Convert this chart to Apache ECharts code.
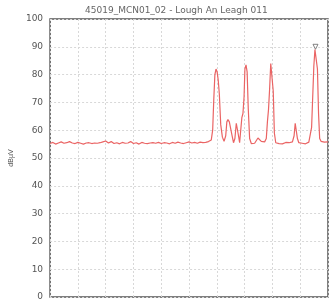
<!DOCTYPE html>
<html>
<head>
    <meta charset="utf-8" />
    <script src="https://cdn.jsdelivr.net/npm/echarts@6/dist/echarts.min.js"></script>
</head>
<body style="margin:0;">
    <div id="main" style="width: 332px;height:303px;"></div>
    <script type="text/javascript">
        const TITLE = '45019_MCN01_02 - Lough An Leagh 011';
        const Y_NAME = 'dBµV';

        // flat noise floor, one sample per x unit (0..57)
        const floorLevel = [55.2, 55.6, 55.0, 55.4, 55.8, 55.3, 55.5, 55.9, 55.4, 55.2,
            55.6, 55.3, 55.0, 55.4, 55.5, 55.2, 55.4, 55.3, 55.5, 55.8,
            56.1, 55.4, 55.9, 55.2, 55.5, 55.1, 55.6, 55.3, 55.4, 55.9,
            55.2, 55.5, 55.0, 55.6, 55.3, 55.2, 55.4, 55.5, 55.3, 55.6,
            55.2, 55.5, 55.4, 55.1, 55.6, 55.3, 55.7, 55.4, 55.2, 55.5,
            55.8, 55.4, 55.6, 55.3, 55.7, 55.5, 55.6, 55.9];

        // peak region, sampled finer
        const peakX = [58, 58.5, 58.9, 59.3, 59.7, 60.1, 60.5, 60.9, 61.4, 62.0,
            62.6, 63.2, 63.6, 64.0, 64.5, 65.0, 65.5, 66.0, 66.5, 67.0,
            67.4, 67.8, 68.2, 68.6, 69.0, 69.4, 69.8, 70.1, 70.5, 70.9,
            71.3, 71.8, 72.4, 73, 73.6, 74.2, 74.8, 75.4, 76, 76.6,
            77.2, 77.8, 78.2, 78.6, 79.0, 79.4, 79.9, 80.3, 80.7, 81.2,
            81.8, 82.4, 83, 83.6, 84.2, 84.8, 85.4, 86, 86.6, 87.2,
            87.8, 88.2, 88.6, 89.0, 89.5, 90.1, 90.7, 91.3, 91.9, 92.5,
            93.1, 93.7, 94.1, 94.5, 94.9, 95.3, 95.8, 96.2, 96.6, 97.0,
            97.5, 98.1, 98.7, 99.3, 100];
        const peakLevel = [56.5, 60, 71, 80, 82, 81, 78, 73, 62, 57.5,
            56, 58, 63, 63.8, 63, 63.5, 58, 55.5, 57, 62.5,
            62.6, 58, 55.5, 60, 64.5, 66, 72, 82, 83.5, 81,
            68, 57, 55.2, 55.6, 55.3, 55.8, 57.2, 57.6, 56.0, 55.5,
            55.8, 57, 63, 67.5, 75, 84, 84.5, 74, 59, 55.5,
            56, 55.2, 55.5, 55.1, 55.4, 55.6, 55.2, 55.5, 55.4, 55.8,
            58, 62.5, 62, 57, 55.5, 55.9, 55.3, 55.6, 55.1, 55.4,
            55.7, 56.2, 61, 72, 83, 89, 89, 82, 66, 57,
            56, 56.4, 55.7, 56.2, 55.8];

        const markerPoint = [95.5, 90];

        const trace = floorLevel.map((v, i) => [i, v])
            .concat(peakX.map((x, i) => [x, peakLevel[i]]));

        const gridLine = { show: true, lineStyle: { color: '#d8d8d8', type: [2, 2], width: 1 } };

        const myChart = echarts.init(document.getElementById('main'));
        myChart.setOption({
            animation: false,
            title: {
                text: TITLE,
                left: 80,
                top: 1,
                textStyle: { fontSize: 9, fontWeight: 'normal', color: '#666', fontFamily: 'DejaVu Sans' }
            },
            grid: {
                left: 43, right: 4, top: 19, bottom: 6,
                show: true, borderColor: '#555', borderWidth: 1.5
            },
            xAxis: {
                type: 'value', min: 0, max: 100, interval: 10,
                axisLine: { show: false }, axisTick: { show: false },
                axisLabel: { show: false },
                splitLine: gridLine
            },
            yAxis: {
                type: 'value', min: 0, max: 100, interval: 10,
                name: Y_NAME, nameLocation: 'middle', nameGap: 31,
                nameTextStyle: { fontSize: 7, color: '#555' },
                axisLine: { show: false }, axisTick: { show: false },
                axisLabel: { fontSize: 9, color: '#555', margin: 7, fontFamily: 'DejaVu Sans' },
                splitLine: gridLine
            },
            series: [{
                type: 'line',
                data: trace,
                symbol: 'none',
                lineStyle: { color: '#ea6464', width: 1.2 }
            }, {
                type: 'scatter',
                data: [markerPoint],
                symbol: 'triangle',
                symbolRotate: 180,
                symbolSize: 5,
                itemStyle: { color: '#fff', borderColor: '#666', borderWidth: 1 }
            }]
        });
    </script>
</body>
</html>
